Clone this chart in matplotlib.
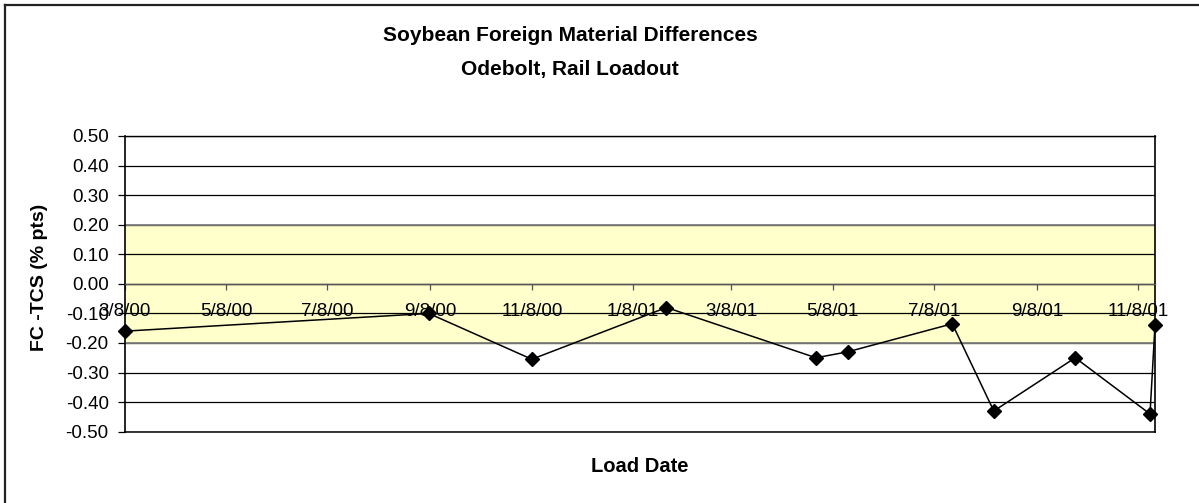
import datetime as dt
import matplotlib
matplotlib.use('Agg')
import matplotlib.pyplot as plt
import matplotlib.dates as mdates
from matplotlib.ticker import FuncFormatter, FormatStrFormatter, MultipleLocator
from matplotlib.lines import Line2D

plt.rcParams.update({
    'font.family': ['Liberation Sans', 'DejaVu Sans'],
    'font.size': 13.5,
})

TITLE = "Soybean Foreign Material Differences\nOdebolt, Rail Loadout"
X_LABEL = "Load Date"
Y_LABEL = "FC -TCS (% pts)"

load_dates = [
    dt.date(2000, 3, 8), dt.date(2000, 9, 7), dt.date(2000, 11, 8),
    dt.date(2001, 1, 28), dt.date(2001, 4, 28), dt.date(2001, 5, 17),
    dt.date(2001, 7, 19), dt.date(2001, 8, 13), dt.date(2001, 10, 1),
    dt.date(2001, 11, 15), dt.date(2001, 11, 18),
]
fm_diff = [-0.16, -0.10, -0.255, -0.08, -0.25, -0.23,
           -0.135, -0.43, -0.25, -0.44, -0.14]

band_low, band_high = -0.20, 0.20
y_min, y_max = -0.50, 0.50

W, H = 1199, 503
fig = plt.figure(figsize=(W / 100, H / 100), dpi=100)
fig.patch.set_facecolor('white')

# outer chart frame (only left/top edges visible in the crop)
fig.add_artist(Line2D([4.5 / W, 4.5 / W], [0, 1 - 4.5 / H], color='#222', lw=1.6))
fig.add_artist(Line2D([4.5 / W, 1], [1 - 4.5 / H, 1 - 4.5 / H], color='#222', lw=1.6))

left, right, top, bottom = 124.7, 1155, 136, 431.7
ax = fig.add_axes([left / W, 1 - bottom / H, (right - left) / W, (bottom - top) / H])

ax.axhspan(band_low, band_high, color='#FFFFCC', zorder=0)
for yv in [band_low, band_high]:
    ax.axhline(yv, color='#808080', lw=1.3, zorder=0.6)
ax.axhline(y_min, color='black', lw=1.1, zorder=0.6, clip_on=False)
ax.axhline(y_max, color='black', lw=1.0, zorder=0.6, clip_on=False)

ax.plot(load_dates, fm_diff, color='black', lw=1.1, marker='D', markersize=7,
        markerfacecolor='black', markeredgecolor='black', zorder=3, clip_on=False)

ax.set_xlim(load_dates[0], load_dates[-1])
ax.set_ylim(y_min, y_max)

ax.yaxis.set_major_locator(MultipleLocator(0.1))
ax.yaxis.set_major_formatter(FormatStrFormatter('%.2f'))
ax.grid(axis='y', color='black', lw=0.9, zorder=0.5)
ax.set_axisbelow(True)

ax.xaxis.set_major_locator(mdates.MonthLocator(bymonth=[1, 3, 5, 7, 9, 11], bymonthday=8))
ax.xaxis.set_major_formatter(FuncFormatter(
    lambda v, p: (lambda d: f"{d.month}/{d.day}/{d.year % 100:02d}")(mdates.num2date(v))))

ax.spines['bottom'].set_position(('data', 0))
ax.spines['bottom'].set_color('#555')
ax.spines['bottom'].set_linewidth(1.0)
ax.spines['top'].set_visible(False)
for s in ['left', 'right']:
    ax.spines[s].set_color('black')
    ax.spines[s].set_linewidth(1.2)

ax.tick_params(axis='x', direction='out', length=4.5, width=0.9, color='#555',
               pad=9, labelsize=13.5)
ax.tick_params(axis='y', direction='out', length=5, width=0.9, pad=6.5, labelsize=13.5)

fig.text(570 / W, 1 - 52.5 / H, TITLE, ha='center', va='center', fontsize=15,
         fontweight='bold', linespacing=2.0)
fig.text(40 / W, 1 - 277 / H, Y_LABEL, ha='center', va='center', rotation=90,
         fontsize=14, fontweight='bold')
fig.text(640 / W, 1 - 467 / H, X_LABEL, ha='center', va='center', fontsize=14.5,
         fontweight='bold')

fig.savefig('out.png', dpi=100, facecolor='white')
